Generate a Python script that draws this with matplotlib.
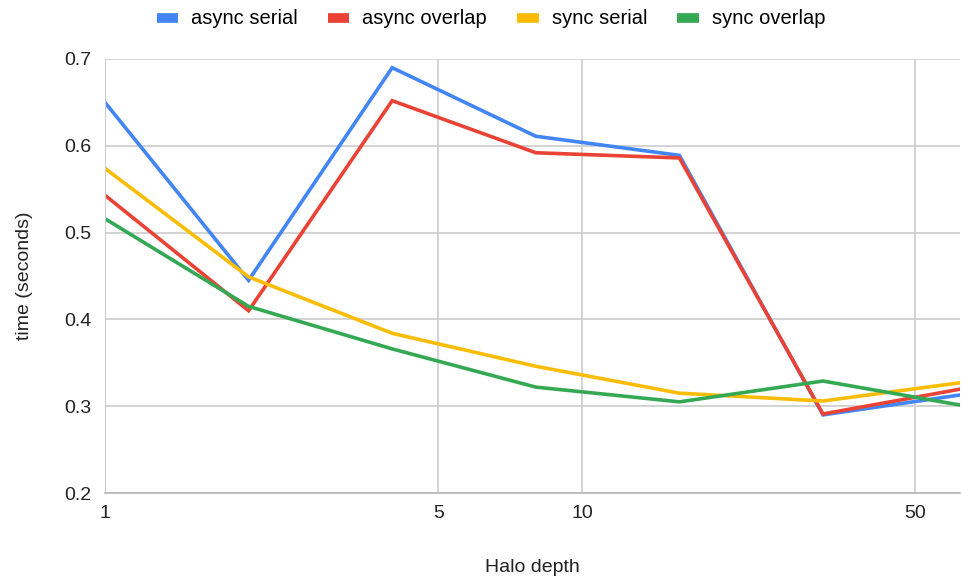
import matplotlib
matplotlib.use("Agg")
import matplotlib.pyplot as plt
from matplotlib.ticker import FixedLocator, NullLocator

plt.rcParams["font.family"] = ["Liberation Sans", "DejaVu Sans"]

# ── DATA ───────────────────────────────────────────────
halo_depth = [1, 2, 4, 8, 16, 32, 64]
async_serial = [0.650, 0.445, 0.690, 0.611, 0.589, 0.290, 0.314]
async_overlap = [0.543, 0.410, 0.652, 0.592, 0.586, 0.291, 0.321]
sync_serial = [0.574, 0.449, 0.384, 0.346, 0.315, 0.306, 0.328]
sync_overlap = [0.516, 0.415, 0.366, 0.322, 0.305, 0.329, 0.300]

x_ticks = [1, 5, 10, 50]
y_ticks = [0.2, 0.3, 0.4, 0.5, 0.6, 0.7]

SERIES = [
    ("async serial", async_serial, "#4285F4"),
    ("async overlap", async_overlap, "#EA4335"),
    ("sync serial", sync_serial, "#FBBC04"),
    ("sync overlap", sync_overlap, "#34A853"),
]

TXT = "#222222"

# ── PLOT ───────────────────────────────────────────────
fig = plt.figure(figsize=(9.61, 5.79), dpi=100)
ax = fig.add_axes([105 / 961, 1 - 493 / 579, 855 / 961, 434 / 579])

for label, vals, color in SERIES:
    ax.plot(halo_depth, vals, color=color, lw=2.6, label=label,
            solid_joinstyle="miter")

ax.set_xscale("log")
ax.set_xlim(1, 62.0)
ax.set_ylim(0.2, 0.7)

ax.xaxis.set_major_locator(FixedLocator(x_ticks))
ax.xaxis.set_minor_locator(NullLocator())
ax.set_xticklabels([str(t) for t in x_ticks])
ax.set_yticks(y_ticks)
ax.set_yticklabels([f"{t:.1f}" for t in y_ticks])

ax.grid(True, color="#CCCCCC", lw=1.2)
ax.set_axisbelow(True)
for side in ["top", "right"]:
    ax.spines[side].set_visible(False)
ax.spines["left"].set_color("#CCCCCC")
ax.spines["bottom"].set_color("#BBBBBB")
ax.spines["bottom"].set_linewidth(1.3)
ax.tick_params(length=0, labelsize=14, colors=TXT)
ax.tick_params(axis="y", pad=9.5)
ax.tick_params(axis="x", pad=9)

ax.set_xlabel("Halo depth", fontsize=14, color=TXT, labelpad=26)
ax.set_ylabel("time (seconds)", fontsize=14, color=TXT, labelpad=23)

leg = fig.legend(loc="upper center", bbox_to_anchor=(0.511, 1.015), ncol=4,
                 frameon=False, fontsize=14.5, handlelength=1.05,
                 handleheight=0.6, columnspacing=1.5, handletextpad=0.65)
for h in leg.legend_handles:
    h.set_linewidth(7)
    h.set_solid_capstyle("butt")

fig.savefig("out.png", dpi=100)
